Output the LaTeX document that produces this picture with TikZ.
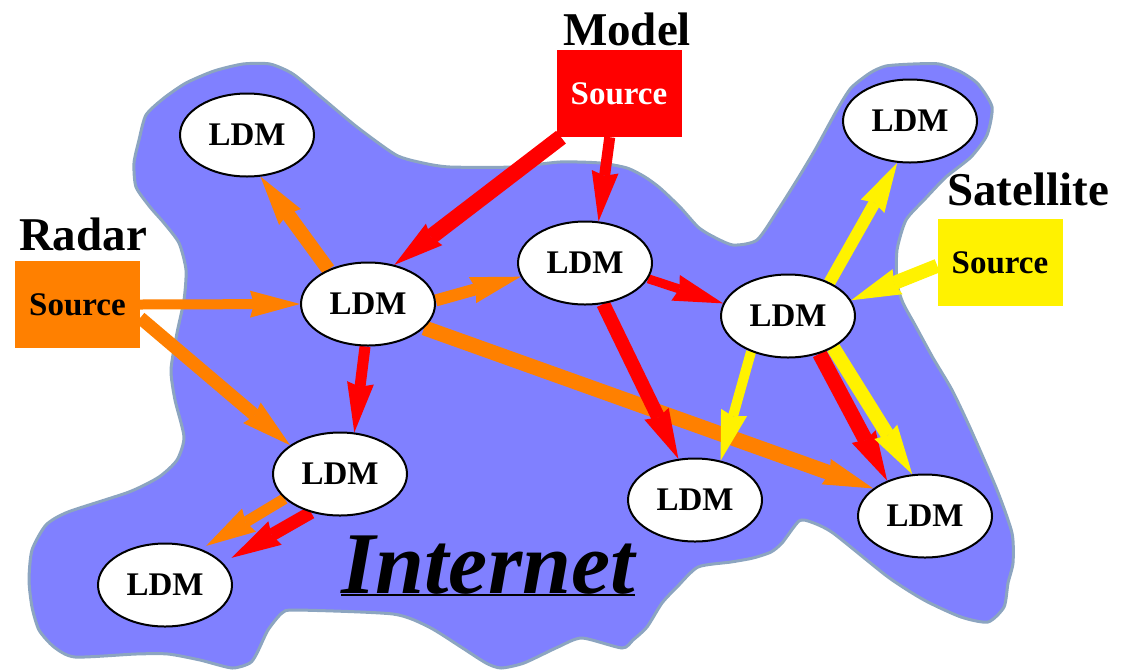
\documentclass[tikz,border=0pt]{standalone}
\usepackage{fontspec}
\setmainfont{Liberation Serif}
\usetikzlibrary{shapes.geometric, arrows.meta}

\definecolor{netblue}{RGB}{128,128,255}
\definecolor{netedge}{RGB}{140,165,192}
\definecolor{radarorange}{RGB}{255,128,0}
\definecolor{modelred}{RGB}{255,0,0}
\definecolor{satyellow}{RGB}{255,242,0}

\pgfdeclarelayer{cloud}
\pgfdeclarelayer{feeds}
\pgfsetlayers{cloud,feeds,main}

\tikzstyle{ldm} = [ellipse, draw, line width=2pt, fill=white, minimum width=134pt, minimum height=83pt, inner sep=0pt, font=\fontsize{33}{36}\selectfont\bfseries]
\tikzstyle{source} = [rectangle, minimum width=125pt, minimum height=87pt, inner sep=0pt, font=\fontsize{33}{36}\selectfont\bfseries]
\tikzstyle{title} = [inner sep=0pt, anchor=base, font=\fontsize{47}{50}\selectfont\bfseries]
\tikzstyle{feed} = [-{Stealth[length=50pt, width=27pt, inset=4pt, line width=0pt]}]

\begin{document}
\begin{tikzpicture}[x=1pt, y=-1pt]
        \useasboundingbox (0,0) rectangle (1131,670);

        %internet cloud
        \begin{pgfonlayer}{cloud}
        \draw [netedge, fill=netblue, line width=3pt] plot [smooth cycle, tension=0.4] coordinates {
            (243,64) (270,64) (293,74) (321,97) (357,127) (396,155) (423,163) (450,167)
            (513,167) (560,162) (600,163) (627,168) (645,177) (660,188) (680,207) (698,227)
            (712,236) (733,245) (757,240) (778,210) (797,180) (815,150) (837,110) (851,88)
            (870,73) (886,66) (913,64) (939,64) (961,72) (978,84) (992,107) (987,135)
            (971,157) (946,177) (924,200) (906,220) (897,250) (897,283) (903,303) (915,325)
            (933,358) (952,390) (971,430) (997,490) (1012,533) (1013,563) (1008,583) (1004,607)
            (988,622) (961,617) (924,600) (888,577) (833,533) (811,522) (799,521) (782,543)
            (771,552) (753,558) (731,562) (698,567) (677,587) (662,603) (647,627) (633,640)
            (622,648) (582,638) (558,647) (524,663) (501,668) (486,663) (461,647) (429,627)
            (393,614) (296,610) (282,613) (268,630) (257,653) (250,663) (232,668) (200,660)
            (168,654) (136,654) (75,657) (54,647) (39,630) (32,607) (29,580) (32,550)
            (46,525) (68,512) (129,492) (159,477) (177,460) (184,437) (175,400) (171,370)
            (177,333) (184,300) (186,270) (179,243) (164,223) (150,207) (136,187) (134,163)
            (139,140) (146,115) (164,98) (186,83) (214,71)};
        \end{pgfonlayer}

        %data sources
        \node at (77.5,304.5) [source, fill=radarorange] (radar) {Source};
        \node at (619,93.5) [source, fill=modelred, text=white] (model) {Source};
        \node at (1000,262.5) [source, fill=satyellow] (sat) {Source};
        \node at (83,250) [title] (radarname) {Radar};
        \node at (627,45) [title] (modelname) {Model};
        \node at (1028,205) [title] (satname) {Satellite};

        %ldm hosts
        \node at (247,135) [ldm] (a) {LDM};
        \node at (368,304) [ldm] (b) {LDM};
        \node at (585,263) [ldm] (c) {LDM};
        \node at (788,316) [ldm] (d) {LDM};
        \node at (910,121) [ldm] (e) {LDM};
        \node at (340,474) [ldm] (f) {LDM};
        \node at (165,585) [ldm] (g) {LDM};
        \node at (695,500) [ldm] (h) {LDM};
        \node at (925,516) [ldm] (i) {LDM};

        \node at (488,593) [anchor=base, inner sep=0pt, font=\fontsize{88}{90}\selectfont\bfseries\itshape] (inet) {Internet};
        \draw [line width=1.5pt] ([yshift=-2pt]inet.base west) -- ([yshift=-2pt]inet.base east);

        %Arrows
        \begin{pgfonlayer}{feeds}
        \draw [feed, radarorange, line width=10pt] (radar.east) -- (b.west);
        \draw [feed, radarorange, line width=13pt] (radar.-12) -- (f.150);
        \draw [feed, radarorange, line width=14pt] (b.139) -- (a.-72);
        \draw [feed, radarorange, line width=12pt] (b.3) -- (c.192);
        \draw [feed, radarorange, line width=15pt] (b.-23) -- (i.152);
        \draw [feed, radarorange, line width=11pt, shorten >=6pt] (f.204) -- (g.45);
        \draw [feed, modelred, line width=16pt] (model.217) -- (b.56);
        \draw [feed, modelred, line width=11pt] (model.258) -- (c.72);
        \draw [feed, modelred, line width=9pt] (c.-14) -- (d.169);
        \draw [feed, modelred, line width=14pt] (c.-66) -- (h.112);
        \draw [feed, modelred, line width=11pt] (b.266) -- (f.71);
        \draw [feed, modelred, line width=13pt, shorten >=10pt] (f.233) -- (g.21);
        \draw [feed, modelred, line width=15pt] (d.-50) -- (i.137);
        \draw [feed, satyellow, line width=14pt] (sat.183) -- (d.14);
        \draw [feed, satyellow, line width=12pt] (d.39) -- (e.253);
        \draw [feed, satyellow, line width=10pt] (d.224) -- (h.57);
        \draw [feed, satyellow, line width=14pt] (d.-35) -- (i.107);
        \end{pgfonlayer}

    \end{tikzpicture}
\end{document}
